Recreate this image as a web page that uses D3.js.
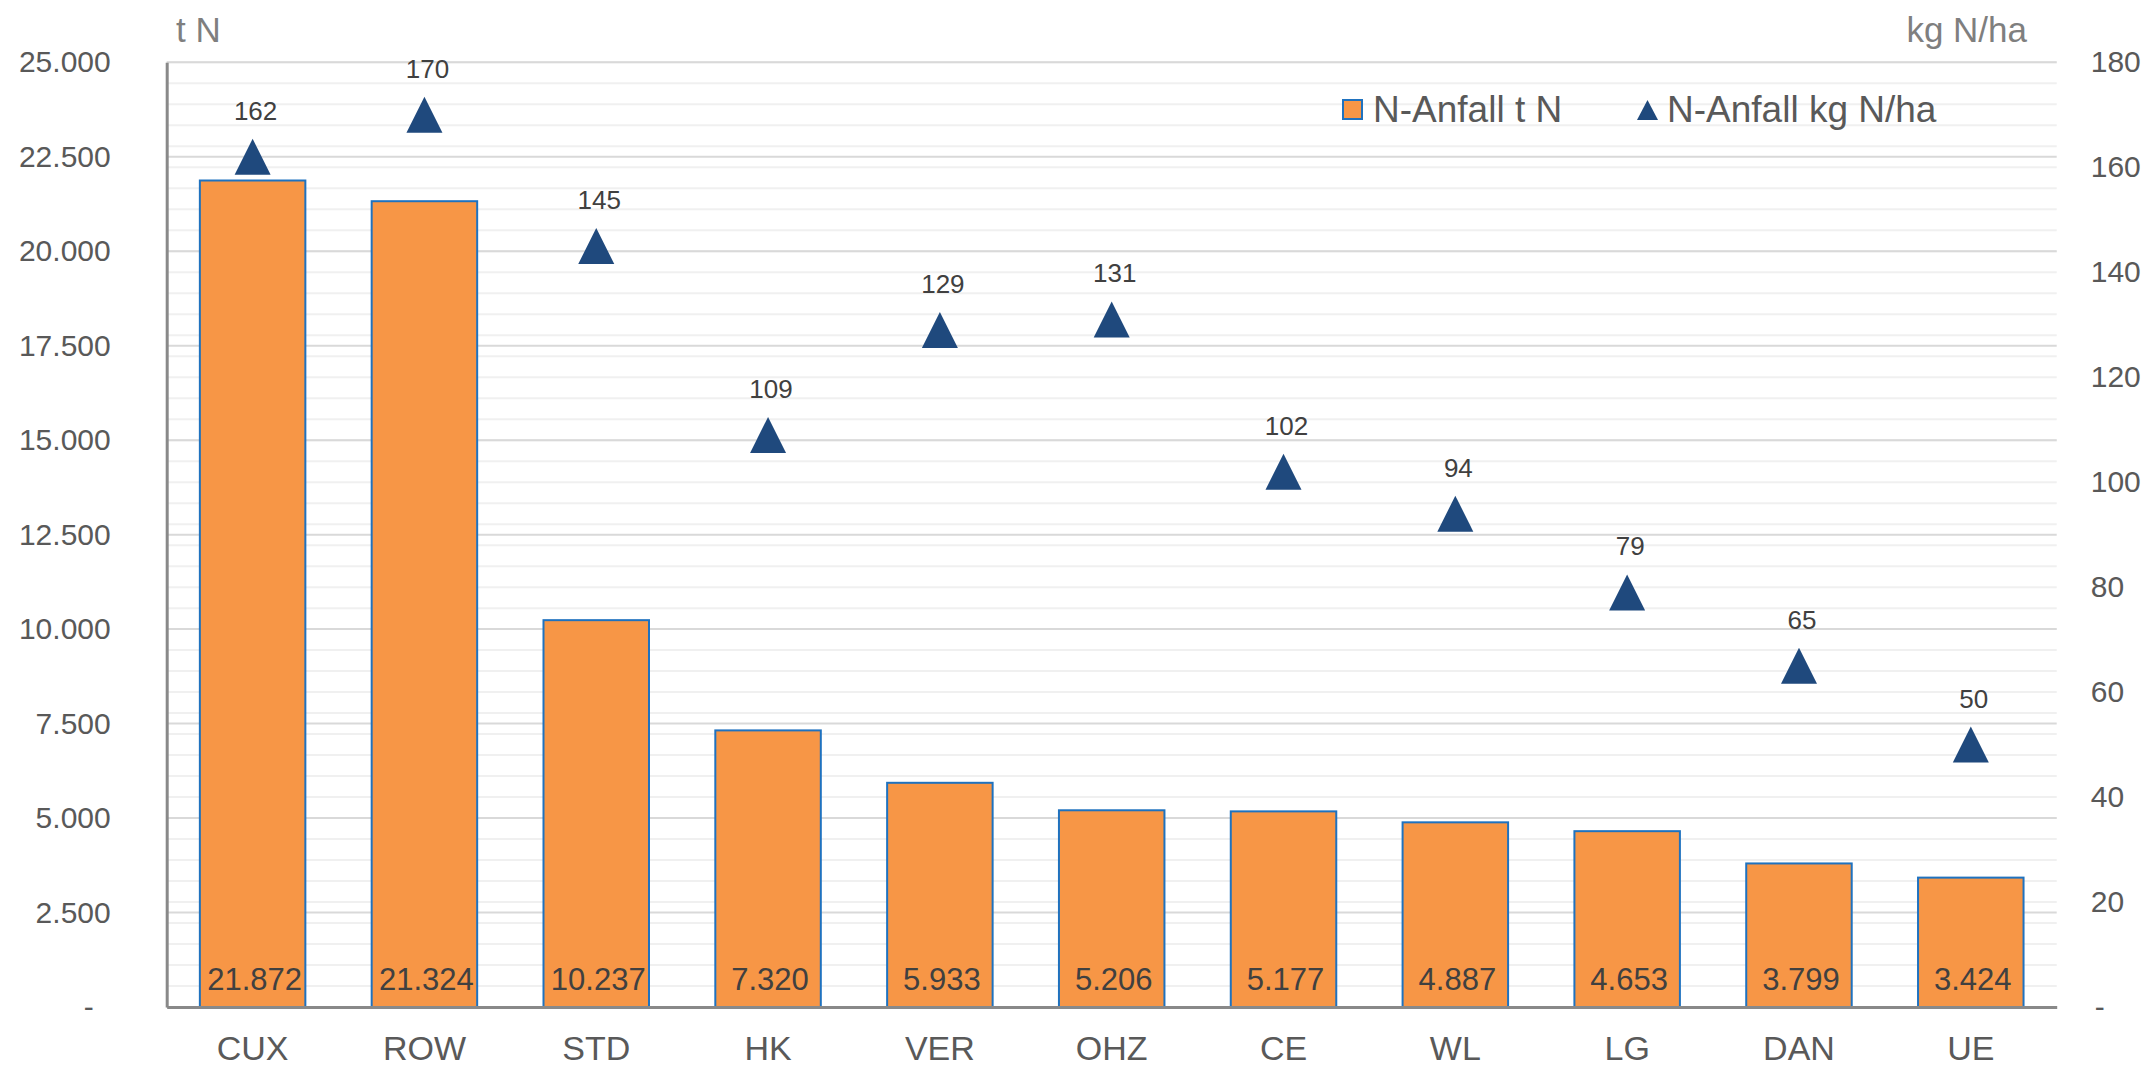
<!DOCTYPE html>
<html>
<head>
<meta charset="utf-8">
<script src="https://cdn.jsdelivr.net/npm/d3@7"></script>
<style>
  body { margin: 0; background: #fff; }
  text { font-family: "Liberation Sans", Arial, sans-serif; }
</style>
</head>
<body>
<div id="chart"></div>
<script>

// data
var kreise = ['CUX', 'ROW', 'STD', 'HK', 'VER', 'OHZ', 'CE', 'WL', 'LG', 'DAN', 'UE'];
var anfallTonnen = [21872, 21324, 10237, 7320, 5933, 5206, 5177, 4887, 4653, 3799, 3424];
var anfallKgHa = [162, 170, 145, 109, 129, 131, 102, 94, 79, 65, 50];
var leftTicks = [0, 2500, 5000, 7500, 10000, 12500, 15000, 17500, 20000, 22500, 25000];
var rightTicks = [0, 20, 40, 60, 80, 100, 120, 140, 160, 180];
var legendNames = ['N-Anfall t N', 'N-Anfall kg N/ha'];

var W = 2145, H = 1067;
var m = { top: 62.3, right: 2145 - 2056.7, bottom: 1067 - 1007, left: 166.7 };

var de = d3.formatLocale({ decimal: ',', thousands: '.', grouping: [3], currency: ['', '€'] });
var fmt = de.format(',.0f');
var fmtAxis = function(d) { return d === 0 ? '-' : fmt(d); };

var svg = d3.select('#chart')
            .append('svg')
            .attr('width', W)
            .attr('height', H);

var x = d3.scaleBand()
          .domain(kreise)
          .range([m.left, W - m.right])
          .paddingInner(0.386)
          .paddingOuter(0.193);

var yL = d3.scaleLinear().domain([0, 25000]).range([H - m.bottom, m.top]);
var yR = d3.scaleLinear().domain([0, 180]).range([H - m.bottom, m.top]);

// minor grid (secondary axis, every 4)
svg.append('g')
   .selectAll('line')
   .data(d3.range(0, 181, 4))
   .join('line')
   .attr('x1', m.left).attr('x2', W - m.right)
   .attr('y1', function(d) { return yR(d); })
   .attr('y2', function(d) { return yR(d); })
   .attr('stroke', '#f0f0f0')
   .attr('stroke-width', 2);

// major grid
svg.append('g')
   .selectAll('line')
   .data(leftTicks)
   .join('line')
   .attr('x1', m.left).attr('x2', W - m.right)
   .attr('y1', function(d) { return yL(d); })
   .attr('y2', function(d) { return yL(d); })
   .attr('stroke', '#d9d9d9')
   .attr('stroke-width', 2);

// bars
svg.append('g')
   .selectAll('rect')
   .data(anfallTonnen)
   .join('rect')
   .attr('x', function(d, i) { return x(kreise[i]); })
   .attr('y', function(d) { return yL(d); })
   .attr('width', x.bandwidth())
   .attr('height', function(d) { return yL(0) - yL(d); })
   .attr('fill', '#f79646')
   .attr('stroke', '#1f72bf')
   .attr('stroke-width', 2);

// bar value labels
svg.append('g')
   .selectAll('text')
   .data(anfallTonnen)
   .join('text')
   .attr('x', function(d, i) { return x(kreise[i]) + x.bandwidth() / 2 + 2; })
   .attr('y', yL(0) - 17)
   .attr('text-anchor', 'middle')
   .attr('font-size', 31)
   .attr('fill', '#404040')
   .text(function(d) { return fmt(d); });

// axes
var axisL = d3.axisLeft(yL).tickValues(leftTicks).tickFormat(fmtAxis).tickSize(0).tickPadding(56);
var axisR = d3.axisRight(yR).tickValues(rightTicks).tickFormat(fmtAxis).tickSize(0).tickPadding(34);
var axisB = d3.axisBottom(x).tickSize(0).tickPadding(29);

var gL = svg.append('g').attr('transform', 'translate(' + m.left + ',0)').call(axisL);
var gR = svg.append('g').attr('transform', 'translate(' + (W - m.right) + ',0)').call(axisR);
var gB = svg.append('g').attr('transform', 'translate(0,' + (H - m.bottom) + ')').call(axisB);

gR.select('.domain').remove();
gL.select('.domain').attr('stroke', '#898989').attr('stroke-width', 3);
gB.select('.domain').attr('stroke', '#898989').attr('stroke-width', 3);

[gL, gR].forEach(function(g) {
  g.selectAll('text')
   .attr('font-size', 30)
   .attr('fill', '#595959')
   .attr('font-family', '"Liberation Sans", Arial, sans-serif');
});
gB.selectAll('text')
  .attr('font-size', 34)
  .attr('fill', '#595959')
  .attr('font-family', '"Liberation Sans", Arial, sans-serif');

// "-" sits a little inward like Excel accounting format
gL.selectAll('.tick').filter(function(d) { return d === 0; }).select('text').attr('dx', -17);
gR.selectAll('.tick').filter(function(d) { return d === 0; }).select('text').attr('dx', 4);

// axis titles
svg.append('text')
   .attr('x', 176).attr('y', 42)
   .attr('font-size', 35)
   .attr('fill', '#7f7f7f')
   .text('t N');

svg.append('text')
   .attr('x', 2027).attr('y', 42)
   .attr('text-anchor', 'end')
   .attr('font-size', 35)
   .attr('fill', '#7f7f7f')
   .text('kg N/ha');

// triangles
var tri = function(cx, cy, w, h) {
  return 'M' + cx + ',' + (cy - h / 2) + 'L' + (cx + w / 2) + ',' + (cy + h / 2) + 'L' + (cx - w / 2) + ',' + (cy + h / 2) + 'Z';
};

svg.append('g')
   .selectAll('path')
   .data(anfallKgHa)
   .join('path')
   .attr('d', function(d, i) { return tri(x(kreise[i]) + x.bandwidth() / 2, yR(d), 36, 36); })
   .attr('fill', '#1f497d');

svg.append('g')
   .selectAll('text')
   .data(anfallKgHa)
   .join('text')
   .attr('x', function(d, i) { return x(kreise[i]) + x.bandwidth() / 2 + 3; })
   .attr('y', function(d) { return yR(d) - 37; })
   .attr('text-anchor', 'middle')
   .attr('font-size', 26)
   .attr('fill', '#404040')
   .text(function(d) { return d; });

// legend
var leg = svg.append('g');
leg.append('rect')
   .attr('x', 1343).attr('y', 100)
   .attr('width', 19).attr('height', 19)
   .attr('fill', '#f79646')
   .attr('stroke', '#1f72bf')
   .attr('stroke-width', 2);
leg.append('text')
   .attr('x', 1373).attr('y', 122)
   .attr('font-size', 37)
   .attr('fill', '#595959')
   .text(legendNames[0]);
leg.append('path')
   .attr('d', tri(1647.5, 110, 21, 20))
   .attr('fill', '#1f497d');
leg.append('text')
   .attr('x', 1667).attr('y', 122)
   .attr('font-size', 37)
   .attr('fill', '#595959')
   .text(legendNames[1]);

</script>
</body>
</html>
